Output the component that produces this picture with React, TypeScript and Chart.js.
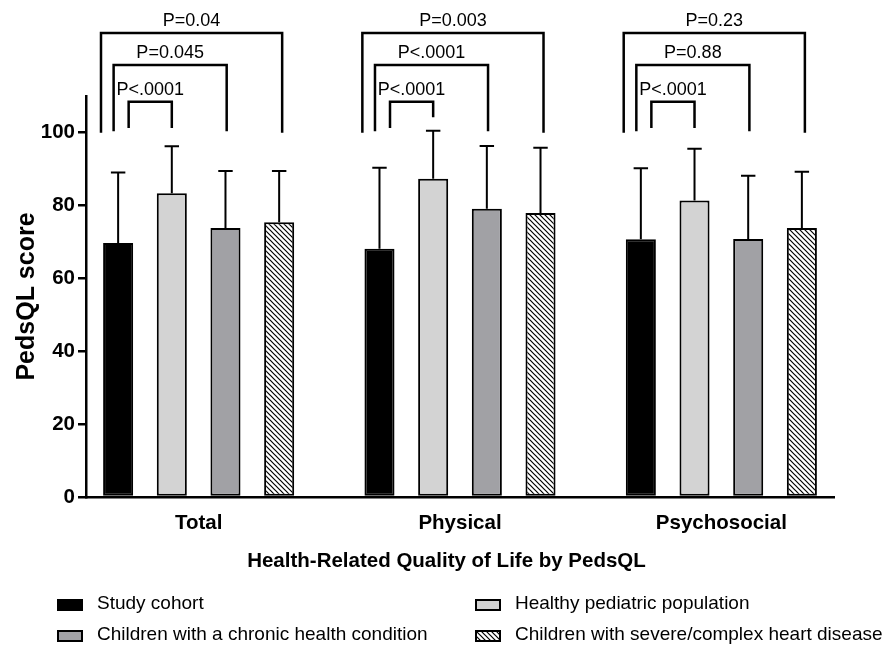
import React, { useEffect, useRef } from 'react';
import { Chart, registerables } from 'chart.js';

Chart.register(...registerables);

// ---------- data ----------
const categories = ['Total', 'Physical', 'Psychosocial'];
const seriesNames = [
  'Study cohort',
  'Healthy pediatric population',
  'Children with a chronic health condition',
  'Children with severe/complex heart disease',
];
const studyCohort = [69.7, 68.1, 70.7];
const healthyPopulation = [83.3, 87.3, 81.3];
const chronicCondition = [73.8, 79.1, 70.8];
const severeHeartDisease = [75.4, 77.9, 73.8];
const studyCohortSD = [19.3, 22.2, 19.5];
const healthyPopulationSD = [12.9, 13.2, 14.2];
const chronicConditionSD = [15.6, 17.2, 17.3];
const severeHeartDiseaseSD = [14.0, 17.9, 15.4];
const yTicks = [0, 20, 40, 60, 80, 100];
// P-values: study cohort compared with each other group, per category
const pVsHealthy = ['P<.0001', 'P<.0001', 'P<.0001'];
const pVsChronic = ['P=0.045', 'P<.0001', 'P=0.88'];
const pVsSevere = ['P=0.04', 'P=0.003', 'P=0.23'];
const xTitle = 'Health-Related Quality of Life by PedsQL';
const yTitle = 'PedsQL score';

const FONT = '"Liberation Sans", Arial, Helvetica, sans-serif';

function makeHatch(): CanvasPattern | string {
  const s = 5;
  const c = document.createElement('canvas');
  c.width = s;
  c.height = s;
  const g = c.getContext('2d');
  if (!g) return '#888';
  g.fillStyle = '#fff';
  g.fillRect(0, 0, s, s);
  g.strokeStyle = '#000';
  g.lineWidth = 1.2;
  g.beginPath();
  g.moveTo(-1, -1);
  g.lineTo(s + 1, s + 1);
  g.moveTo(-1, s - 1);
  g.lineTo(1, s + 1);
  g.moveTo(s - 1, -1);
  g.lineTo(s + 1, 1);
  g.stroke();
  return g.createPattern(c, 'repeat') || '#888';
}

export default function App() {
  const ref = useRef<HTMLCanvasElement | null>(null);

  useEffect(() => {
    const canvas = ref.current;
    if (!canvas) return;
    const hatch = makeHatch();
    const means = [studyCohort, healthyPopulation, chronicCondition, severeHeartDisease];
    const sds = [studyCohortSD, healthyPopulationSD, chronicConditionSD, severeHeartDiseaseSD];
    const fills: any[] = ['#000000', '#d3d3d3', '#a1a1a5', hatch];

    const errorBars = {
      id: 'errorBars',
      afterDatasetsDraw(chart: any) {
        const ctx = chart.ctx;
        const y = chart.scales.y;
        ctx.save();
        ctx.strokeStyle = '#000';
        ctx.lineWidth = 2;
        means.forEach((arr, d) => {
          const meta = chart.getDatasetMeta(d);
          meta.data.forEach((el: any, i: number) => {
            const top = el.y;
            const e = y.getPixelForValue(arr[i] + sds[d][i]);
            const half = el.width * 0.24;
            ctx.beginPath();
            ctx.moveTo(el.x, top);
            ctx.lineTo(el.x, e);
            ctx.moveTo(el.x - half, e);
            ctx.lineTo(el.x + half, e);
            ctx.stroke();
          });
        });
        ctx.restore();
      },
    };

    const brackets = {
      id: 'brackets',
      afterDraw(chart: any) {
        const ctx = chart.ctx;
        const y = chart.scales.y;
        const levels = [108.4, 118.5, 127.3];
        const leftOff = [0.35, -0.15, -0.57];
        const rightOff = [0, 0.04, 0.1];
        const leftBottom = [101.2, 100.3, 99.9];
        const labels = [pVsHealthy, pVsChronic, pVsSevere];
        ctx.save();
        ctx.strokeStyle = '#000';
        ctx.lineWidth = 2.5;
        ctx.fillStyle = '#000';
        ctx.font = `18px ${FONT}`;
        ctx.textAlign = 'center';
        ctx.textBaseline = 'alphabetic';
        categories.forEach((_, g) => {
          const a: any = chart.getDatasetMeta(0).data[g];
          for (let k = 0; k < 3; k++) {
            const b: any = chart.getDatasetMeta(k + 1).data[g];
            const d = k + 1;
            const errTop = means[d][g] + sds[d][g];
            const x1 = a.x + leftOff[k] * a.width;
            const x2 = b.x + rightOff[k] * b.width;
            const yl = y.getPixelForValue(levels[k]);
            const yb1 = y.getPixelForValue(leftBottom[k]);
            const yb2 = y.getPixelForValue(Math.max(leftBottom[k], errTop + 3.7));
            ctx.beginPath();
            ctx.moveTo(x1, yb1);
            ctx.lineTo(x1, yl);
            ctx.lineTo(x2, yl);
            ctx.lineTo(x2, yb2);
            ctx.stroke();
            ctx.fillText(labels[k][g], (x1 + x2) / 2, yl - 7);
          }
        });
        ctx.restore();
      },
    };

    const legendGrid = {
      id: 'legendGrid',
      afterDraw(chart: any) {
        const ctx = chart.ctx;
        ctx.save();
        // x-axis title, centred on the whole figure
        ctx.fillStyle = '#000';
        ctx.font = `bold 20.5px ${FONT}`;
        ctx.textAlign = 'center';
        ctx.textBaseline = 'middle';
        ctx.fillText(xTitle, chart.width / 2, 561);

        const colX = [58, 476];
        const rowY = [605, 636];
        ctx.font = `19px ${FONT}`;
        ctx.textAlign = 'left';
        seriesNames.forEach((name, i) => {
          const cx = colX[i % 2];
          const cy = rowY[Math.floor(i / 2)];
          ctx.fillStyle = fills[i];
          ctx.fillRect(cx, cy - 5, 24, 10);
          ctx.strokeStyle = '#000';
          ctx.lineWidth = 2;
          ctx.strokeRect(cx, cy - 5, 24, 10);
          ctx.fillStyle = '#000';
          ctx.fillText(name, cx + 39, cy - 1);
        });
        ctx.restore();
      },
    };

    const chart = new Chart(canvas, {
      type: 'bar',
      data: {
        datasets: means.map((arr, d) => ({
          label: seriesNames[d],
          data: arr.map((v, i) => ({ x: i, y: v })),
          backgroundColor: fills[d],
          borderColor: '#000',
          borderWidth: 2,
          borderSkipped: false,
          categoryPercentage: 0.8215,
          barPercentage: 0.56,
        })),
      },
      options: {
        animation: false,
        responsive: false,
        devicePixelRatio: 1,
        layout: { padding: { top: 96, right: 59, bottom: 66, left: 0 } },
        plugins: { legend: { display: false }, tooltip: { enabled: false } },
        scales: {
          x: {
            type: 'linear',
            min: -0.431,
            max: 2.431,
            offset: false,
            afterBuildTicks: (s: any) => {
              s.ticks = categories.map((_, i) => ({ value: i }));
            },
            afterFit: (s: any) => {
              s.height = 83;
              s.paddingLeft = 0;
              s.paddingRight = 0;
            },
            grid: { display: false, drawTicks: false },
            border: { display: true, color: '#000', width: 2.5 },
            ticks: {
              callback: (v: any) => categories[v as number],
              font: { family: FONT, size: 20.5, weight: 'bold' },
              color: '#000',
              padding: 14,
              maxRotation: 0,
              autoSkip: false,
            },
            title: { display: false },
          },
          y: {
            min: 0,
            max: 110,
            afterBuildTicks: (s: any) => {
              s.ticks = yTicks.map((v) => ({ value: v }));
            },
            afterFit: (s: any) => {
              s.width = 86;
              s.paddingTop = 0;
              s.paddingBottom = 0;
            },
            grid: {
              display: true,
              drawOnChartArea: false,
              drawTicks: true,
              tickLength: 8,
              lineWidth: 2.5,
              color: '#000',
            },
            border: { display: true, color: '#000', width: 2.5 },
            ticks: {
              font: { family: FONT, size: 20.5, weight: 'bold' },
              color: '#000',
              padding: 3,
            },
            title: {
              display: true,
              text: yTitle,
              font: { family: FONT, size: 25, weight: 'bold' },
              color: '#000',
              padding: { top: 12, bottom: 0 },
            },
          },
        },
      } as any,
      plugins: [errorBars, brackets, legendGrid],
    });
    return () => chart.destroy();
  }, []);

  return (
    <div style={{ position: 'absolute', left: 0, top: 0, width: 893, height: 646, background: '#fff' }}>
      <canvas ref={ref} width={893} height={646} style={{ display: 'block' }} />
    </div>
  );
}
